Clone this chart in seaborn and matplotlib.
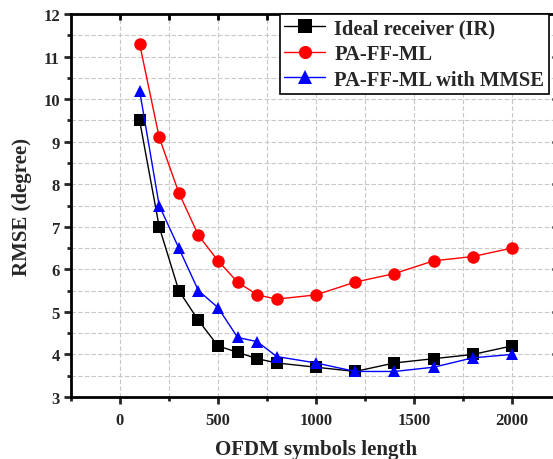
import matplotlib
matplotlib.use("Agg")
import matplotlib.pyplot as plt
import seaborn as sns
import pandas as pd
from matplotlib.ticker import MultipleLocator

x_vals = [100, 200, 300, 400, 500, 600, 700, 800, 1000, 1200, 1400, 1600, 1800, 2000]
ir_vals = [9.5, 7.0, 5.5, 4.8, 4.2, 4.05, 3.9, 3.8, 3.7, 3.6, 3.8, 3.9, 4.0, 4.2]
ml_vals = [11.3, 9.1, 7.8, 6.8, 6.2, 5.7, 5.4, 5.3, 5.4, 5.7, 5.9, 6.2, 6.3, 6.5]
mmse_vals = [10.2, 7.5, 6.5, 5.5, 5.1, 4.4, 4.3, 3.95, 3.8, 3.6, 3.6, 3.7, 3.92, 4.0]
series_names = ["Ideal receiver (IR)", "PA-FF-ML", "PA-FF-ML with MMSE"]

sns.set_style("white")
plt.rcParams['font.family'] = ['Liberation Serif', 'DejaVu Serif']
plt.rcParams['font.weight'] = 'bold'

df = pd.concat([
    pd.DataFrame({"x": x_vals, "y": ir_vals, "s": series_names[0]}),
    pd.DataFrame({"x": x_vals, "y": ml_vals, "s": series_names[1]}),
    pd.DataFrame({"x": x_vals, "y": mmse_vals, "s": series_names[2]}),
])

fig = plt.figure(figsize=(5.53, 4.60), dpi=100)
ax = fig.add_axes([71/553, 1-398/460, (561-71)/553, (398-15)/460])

palette = {series_names[0]: "black", series_names[1]: "red", series_names[2]: "blue"}
markers = {series_names[0]: "s", series_names[1]: "o", series_names[2]: "^"}
sns.lineplot(data=df, x="x", y="y", hue="s", style="s", palette=palette,
             markers=markers, dashes=False, markersize=9, linewidth=1,
             markeredgewidth=0, ax=ax, zorder=3)

ax.set_xlim(-250, 2250)
ax.set_ylim(3, 12)
ax.xaxis.set_major_locator(MultipleLocator(500))
ax.xaxis.set_minor_locator(MultipleLocator(250))
ax.yaxis.set_major_locator(MultipleLocator(1))
ax.yaxis.set_minor_locator(MultipleLocator(0.5))
ax.grid(True, which='both', color='#c8c8c8', linestyle=(0, (4, 2)), linewidth=0.8)
ax.set_axisbelow(True)
for sp in ax.spines.values():
    sp.set_linewidth(2)
    sp.set_color('black')
ax.tick_params(axis='both', which='major', direction='out', length=5, width=2,
               labelsize=12, bottom=True, left=True, top=False, right=False)
ax.tick_params(axis='both', which='minor', direction='out', length=3, width=2,
               bottom=True, left=True, top=False, right=False)
ax.tick_params(axis='x', which='major', pad=6)
ax.tick_params(axis='y', which='major', pad=3)
for lab in ax.get_xticklabels() + ax.get_yticklabels():
    lab.set_fontweight('bold')

# inward tick marks on the top and right edges, at the axis tick locations
x0, x1 = ax.get_xlim()
y0, y1 = ax.get_ylim()
xt = [v for v in list(ax.xaxis.get_majorticklocs()) + list(ax.xaxis.get_minorticklocs()) if x0 < v < x1]
for v in xt:
    ax.plot([v, v], [1.0, 0.984], transform=ax.get_xaxis_transform(), color='black',
            lw=2, clip_on=False, zorder=6, solid_capstyle='butt')
yt = [v for v in ax.yaxis.get_majorticklocs() if y0 < v < y1]
for v in yt:
    ax.plot([1.0, 0.981], [v, v], transform=ax.get_yaxis_transform(), color='black',
            lw=2, clip_on=False, zorder=6, solid_capstyle='butt')
ax.set_xlim(x0, x1)
ax.set_ylim(y0, y1)

ax.set_xlabel("OFDM symbols length", fontsize=15, fontweight='bold', labelpad=8)
ax.set_ylabel("RMSE (degree)", fontsize=15, fontweight='bold', labelpad=8)

handles, labels = ax.get_legend_handles_labels()
handles, labels = handles[:3], labels[:3]
leg = ax.legend(handles, labels, loc='upper left', bbox_to_anchor=((280-71)/490, 1.0),
                frameon=True, fancybox=False, edgecolor='black', framealpha=1,
                prop={'family': 'Liberation Serif', 'weight': 'bold', 'size': 14.8},
                handlelength=2.0, borderpad=0.2, labelspacing=0.28, handletextpad=0.45,
                borderaxespad=0, markerscale=1.05)
leg.get_frame().set_linewidth(1.2)
leg.set_zorder(7)

fig.savefig("out.png", dpi=100)
